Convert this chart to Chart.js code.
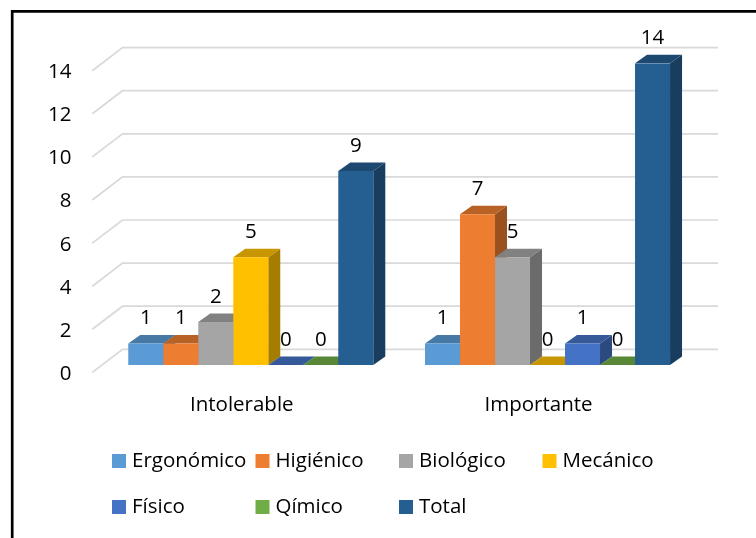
<!DOCTYPE html>
<html><head><meta charset="utf-8">
<style>html,body{margin:0;padding:0;background:#fff}canvas{display:block}</style>
<script src="https://cdn.jsdelivr.net/npm/chart.js@4/dist/chart.umd.min.js"></script>
</head><body><canvas id="c" width="756" height="538"></canvas>
<script>
const categories = ['Intolerable', 'Importante'];
const seriesNames = ['Ergonómico', 'Higiénico', 'Biológico', 'Mecánico', 'Físico', 'Qímico', 'Total'];
const ergonomico = [1, 1];
const higienico = [1, 7];
const biologico = [2, 5];
const mecanico = [5, 0];
const fisico = [0, 1];
const quimico = [0, 0];
const total = [9, 14];
const seriesValues = [ergonomico, higienico, biologico, mecanico, fisico, quimico, total];
const seriesColors = ['#5B9BD5', '#ED7D31', '#A5A5A5', '#FFC000', '#4472C4', '#70AD47', '#255E91'];

const FONT = '"Open Sans", sans-serif';
const FS = 20.5;
const DX = 12, DY = 8.5;

function shade(hex, f) {
  const n = parseInt(hex.slice(1), 16);
  return 'rgb(' + [(n >> 16) & 255, (n >> 8) & 255, n & 255].map(v => Math.round(v * f)).join(',') + ')';
}

const scene = {
  id: 'scene',
  beforeDraw(chart) {
    const c = chart.ctx, y = chart.scales.y;
    c.save();
    c.fillStyle = '#fff';
    c.fillRect(0, 0, chart.width, chart.height);
    c.strokeStyle = '#D9D9D9';
    c.lineWidth = 1.7;
    y.ticks.forEach(t => {
      const p = y.getPixelForValue(t.value);
      c.beginPath();
      c.moveTo(92.3, p + 7.4);
      c.lineTo(122.5, p - 15.7);
      c.lineTo(718, p - 15.7);
      c.stroke();
    });
    c.strokeStyle = '#000';
    c.lineWidth = 2.7;
    c.beginPath();
    c.moveTo(12.2, 538);
    c.lineTo(12.2, 11.4);
    c.lineTo(756, 11.4);
    c.stroke();
    c.restore();
  },
  beforeDatasetsDraw(chart) {
    const c = chart.ctx;
    c.save();
    categories.forEach((_, i) => {
      chart.data.datasets.forEach((ds, d) => {
        const b = chart.getDatasetMeta(d).data[i];
        const l = b.x - b.width / 2, r = b.x + b.width / 2, t = b.y, base = b.base;
        if (base - t > 0.5) {
          c.fillStyle = shade(ds.backgroundColor, 0.65);
          c.beginPath();
          c.moveTo(r, t); c.lineTo(r + DX, t - DY); c.lineTo(r + DX, base - DY); c.lineTo(r, base);
          c.closePath(); c.fill();
        }
        c.fillStyle = shade(ds.backgroundColor, 0.78);
        c.beginPath();
        c.moveTo(l, t); c.lineTo(l + DX, t - DY); c.lineTo(r + DX, t - DY); c.lineTo(r, t);
        c.closePath(); c.fill();
      });
    });
    c.restore();
  },
  afterDatasetsDraw(chart) {
    const c = chart.ctx;
    c.save();
    c.font = FS + 'px ' + FONT;
    c.fillStyle = '#000';
    c.textAlign = 'center';
    c.textBaseline = 'middle';
    chart.data.datasets.forEach((ds, d) => {
      chart.getDatasetMeta(d).data.forEach((b, i) => {
        c.fillText(String(ds.data[i]), b.x, b.y - 25);
      });
    });
    c.textAlign = 'left';
    const cols = [112, 255.5, 399, 542.5], rows = [461, 507];
    chart.data.datasets.forEach((ds, d) => {
      const x = cols[d % 4], y = rows[Math.floor(d / 4)];
      c.fillStyle = ds.backgroundColor;
      c.fillRect(x, y - 7, 14, 14);
      c.fillStyle = '#000';
      c.fillText(ds.label, x + 20, y);
    });
    c.restore();
  }
};

new Chart(document.getElementById('c'), {
  type: 'bar',
  data: {
    labels: categories,
    datasets: seriesNames.map((name, i) => ({
      label: name, data: seriesValues[i], backgroundColor: seriesColors[i], borderWidth: 0
    }))
  },
  options: {
    responsive: false,
    animation: false,
    devicePixelRatio: 1,
    layout: { padding: { left: 0, top: 63.3, right: 60.1, bottom: 0 } },
    datasets: { bar: { barPercentage: 1, categoryPercentage: 0.8257 } },
    plugins: { legend: { display: false }, title: { display: false }, tooltip: { enabled: false } },
    scales: {
      x: {
        grid: { display: false }, border: { display: false },
        ticks: { color: '#000', font: { family: FONT, size: FS }, padding: 20, labelOffset: -9, maxRotation: 0 },
        afterFit(s) { s.height = 173; }
      },
      y: {
        min: 0, max: 14,
        grid: { display: false }, border: { display: false },
        ticks: { stepSize: 2, color: '#000', font: { family: FONT, size: FS }, padding: 23, labelOffset: 9 },
        afterFit(s) { s.width = 102.4; }
      }
    }
  },
  plugins: [scene]
});
</script></body></html>
